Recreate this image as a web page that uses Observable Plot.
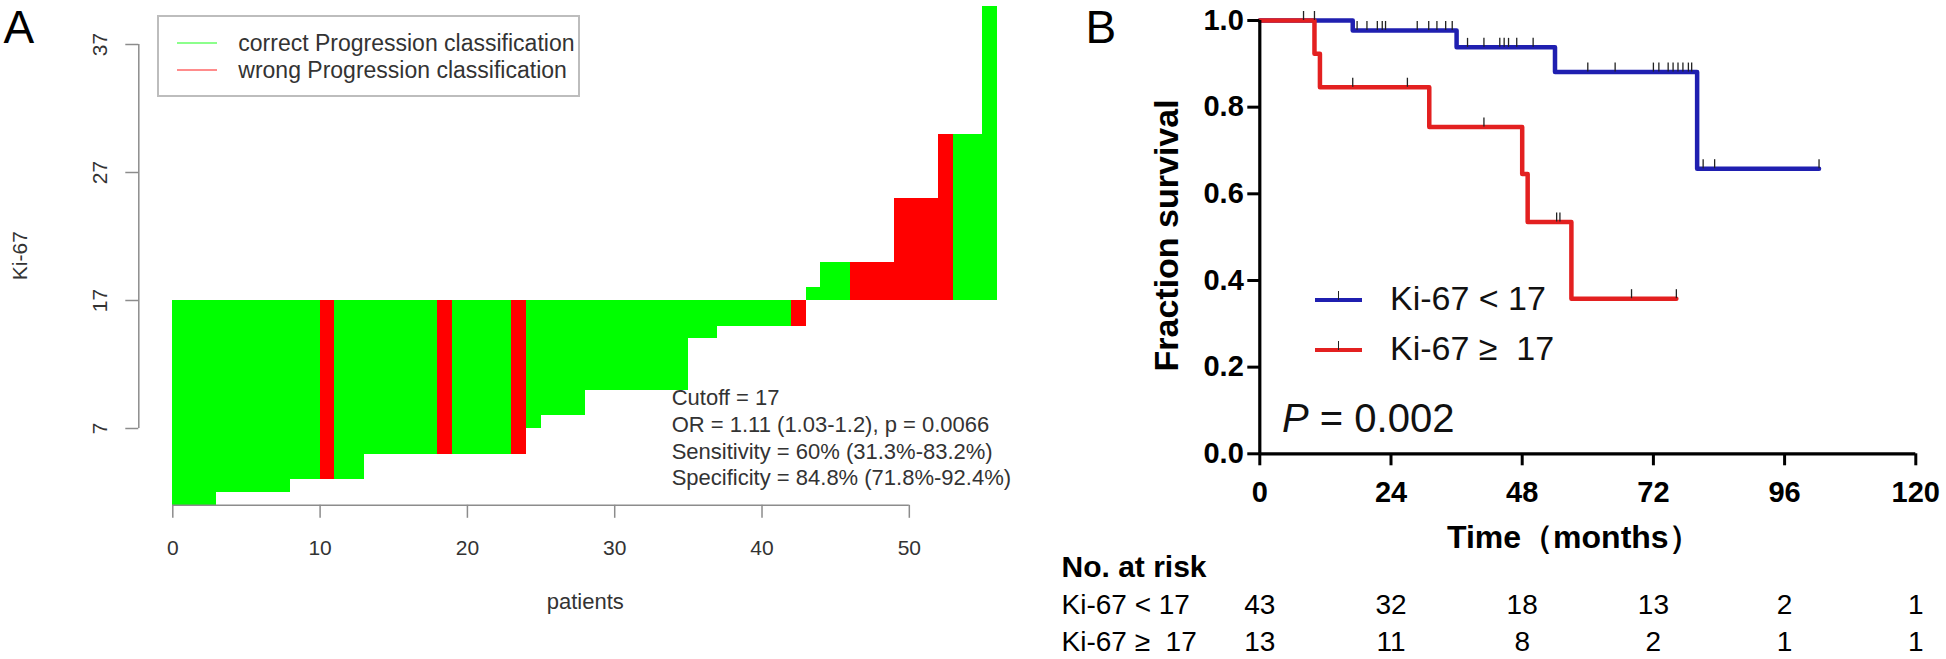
<!DOCTYPE html>
<html><head><meta charset="utf-8">
<script src="https://cdn.jsdelivr.net/npm/d3@7"></script>
<script src="https://cdn.jsdelivr.net/npm/@observablehq/plot@0.6"></script>
<style>
body{margin:0;background:#fff;}
#wrap{position:relative;width:1946px;height:659px;overflow:hidden;font-family:"Liberation Sans",Arial,sans-serif;background:#fff;}
#wrap svg{position:absolute;top:0;}
.abs{position:absolute;white-space:pre;line-height:1;}
</style></head><body><div id="wrap"></div>
<script>
// ---------- Panel A data ----------
const patientKi67 = [1,1,1,2,2,2,2,2,3,3,3,3,3,5,5,5,5,5,5,5,5,5,5,5,7,8,8,8,10,10,10,10,10,10,10,14,14,15,15,15,15,15,15,18,20,20,20,20,20,25,25,25,30,30,30,40];
const wrongPatients = [11,19,24,43,47,48,49,50,51,52,53];
const cutoff = 17;
const kiTicks = [7,17,27,37];
const patientTicks = [0,10,20,30,40,50];
const classLabels = ["correct Progression classification","wrong Progression classification"];
const classColors = ["#00ff00","#ff0000"];
const statsLines = ["Cutoff = 17","OR = 1.11 (1.03-1.2), p = 0.0066","Sensitivity = 60% (31.3%-83.2%)","Specificity = 84.8% (71.8%-92.4%)"];

// ---------- Panel B data ----------
const lowTimes = [0,17,36,54,80,102.3];
const lowSurv  = [1,0.977,0.938,0.881,0.658,0.658];
const highTimes = [0,10,11,31,48,49,57,76.2];
const highSurv  = [1,0.923,0.846,0.754,0.646,0.535,0.358,0.358];
const lowCensor = [8,10,17.8,19.6,21.5,22.4,23,28.8,30.9,32.4,34,35.2,38,41,43.9,44.7,45.5,47,50,60,65,72,73,74.7,75.6,76.5,77.4,78.4,79,81.1,83.2,102.3];
const highCensor = [17,27,41,54.3,54.9,68,76.2];
const survTicks = [0,0.2,0.4,0.6,0.8,1.0];
const timeTicks = [0,24,48,72,96,120];
const groupLabels = ["Ki-67 < 17","Ki-67 \u2265  17"];
const groupColors = ["#1f1fb0","#e32020"];
const riskLow  = [43,32,18,13,2,1];
const riskHigh = [13,11,8,2,1,1];
const pText = "0.002";

const FONT = "'Liberation Sans', Arial, sans-serif";
const wrap = document.getElementById("wrap");

// ---------- Panel A ----------
const patients = patientKi67.map((v,i)=>({i, v, status: wrongPatients.includes(i+1) ? "wrong" : "correct"}));
const axisGray = "#8c8c8c";
const A = Plot.plot({
  width: 1050, height: 659,
  marginLeft: 172.3, marginRight: 52.8, marginTop: 5.6, marginBottom: 154.2,
  x: {domain: [0, patients.length], axis: null},
  y: {domain: d3.extent(patientKi67), axis: null},
  color: {domain: ["correct","wrong"], range: classColors},
  style: {fontFamily: FONT, fontSize: "21px", color: "#333", background: "transparent", overflow: "visible"},
  marks: [
    Plot.rect(patients, {x1: d=>d.i, x2: d=>d.i+1, y1: cutoff, y2: d=>d.v, fill: "status", shapeRendering: "crispEdges"}),
    Plot.ruleY([d3.min(patientKi67)], {x1: d3.min(patientTicks), x2: d3.max(patientTicks), stroke: axisGray, strokeWidth: 1.5}),
    Plot.axisX({ticks: patientTicks, label: null, tickSize: 13, tickPadding: 21.5, stroke: axisGray, strokeWidth: 1.5, fill: "#333", fontSize: 21}),
    Plot.ruleX([0], {y1: d3.min(kiTicks), y2: d3.max(kiTicks), dx: -34, stroke: axisGray, strokeWidth: 1.5}),
    Plot.ruleY(kiTicks, {x1: 0, x2: 0, insetLeft: -47, insetRight: 34, stroke: axisGray, strokeWidth: 1.5}),
    Plot.text(kiTicks, {y: d=>d, text: d=>String(d), frameAnchor: "left", textAnchor: "middle", lineAnchor: "middle", rotate: -90, dx: -72.3, fill: "#333", fontSize: 21}),
    Plot.text(["Ki-67"], {frameAnchor: "left", textAnchor: "middle", lineAnchor: "middle", rotate: -90, dx: -152.3, fill: "#333", fontSize: 21}),
    Plot.text(["patients"], {frameAnchor: "bottom", textAnchor: "middle", lineAnchor: "middle", dy: 97, fill: "#333", fontSize: 22}),
    Plot.text(["A"], {frameAnchor: "top-left", textAnchor: "start", lineAnchor: "middle", dx: -169.3, dy: 21.7, fontSize: 46, fill: "#000"})
  ]
});
A.style.left = "0px";
wrap.appendChild(A);

// legend A (html overlay)
const lg = document.createElement("div");
lg.className = "abs";
Object.assign(lg.style, {left:"156.7px", top:"15px", width:"423px", height:"82px", border:"2px solid #bdbdbd", boxSizing:"border-box"});
wrap.appendChild(lg);
classLabels.forEach((lab,k)=>{
  const cy = 43.3 + k*26.7;
  const ln = document.createElement("div");
  ln.className = "abs";
  Object.assign(ln.style, {left:"176.7px", top:(cy-1)+"px", width:"40px", height:"2px", background: classColors[k], opacity: "0.45"});
  wrap.appendChild(ln);
  const tx = document.createElement("div");
  tx.className = "abs";
  tx.textContent = lab;
  Object.assign(tx.style, {left:"238.3px", top:(cy-11.5)+"px", fontSize:"23px", color:"#333"});
  wrap.appendChild(tx);
});
// stats text
statsLines.forEach((s,k)=>{
  const tx = document.createElement("div");
  tx.className = "abs";
  tx.textContent = s;
  Object.assign(tx.style, {left:"671.7px", top:(398.3 + k*26.7 - 11)+"px", fontSize:"22px", color:"#333"});
  wrap.appendChild(tx);
});

// ---------- Panel B ----------
const lowCurve = lowTimes.map((t,i)=>({t, s: lowSurv[i]}));
const highCurve = highTimes.map((t,i)=>({t, s: highSurv[i]}));
function survAt(times, surv, t){ let s = surv[0]; for (let i=0;i<times.length;i++) if (times[i] <= t) s = surv[i]; return s; }
const lowC = lowCensor.map(t=>({t, s: survAt(lowTimes, lowSurv, t)}));
const highC = highCensor.map(t=>({t, s: survAt(highTimes, highSurv, t)}));

const B = Plot.plot({
  width: 896, height: 659,
  marginLeft: 209.3, marginRight: 30.7, marginTop: 20, marginBottom: 205.7,
  x: {domain: [0,120], axis: null},
  y: {domain: [0,1], axis: null},
  style: {fontFamily: FONT, fontSize: "29px", fontWeight: "bold", color: "#000", background: "transparent", overflow: "visible"},
  marks: [
    Plot.line(lowCurve, {x: "t", y: "s", curve: "step-after", stroke: groupColors[0], strokeWidth: 4.5}),
    Plot.line(highCurve, {x: "t", y: "s", curve: "step-after", stroke: groupColors[1], strokeWidth: 4.5}),
    Plot.ruleX(lowC, {x: "t", y1: "s", y2: "s", insetTop: -9, insetBottom: 0, stroke: "#222", strokeWidth: 1.3}),
    Plot.ruleX(highC, {x: "t", y1: "s", y2: "s", insetTop: -9, insetBottom: 0, stroke: "#222", strokeWidth: 1.3}),
    Plot.ruleX([0], {y1: d3.min(survTicks), y2: d3.max(survTicks), strokeWidth: 3.2}),
    Plot.ruleY([0], {x1: d3.min(timeTicks), x2: d3.max(timeTicks), strokeWidth: 3.2}),
    Plot.axisY({ticks: survTicks, label: null, tickFormat: d3.format(".1f"), tickSize: 12, tickPadding: 4, strokeWidth: 3, fontSize: 29, fontWeight: "bold"}),
    Plot.axisX({ticks: timeTicks, label: null, tickSize: 12, tickPadding: 15.5, strokeWidth: 3, fontSize: 29, fontWeight: "bold"}),
    Plot.text(["Fraction survival"], {frameAnchor: "left", textAnchor: "middle", lineAnchor: "middle", rotate: -90, dx: -92.3, dy: -1.7, fontSize: 34}),
    Plot.text(["Time（months）"], {frameAnchor: "bottom", textAnchor: "middle", lineAnchor: "middle", dx: -14, dy: 84, fontSize: 32}),
    Plot.text(["No. at risk"], {frameAnchor: "bottom-left", textAnchor: "start", lineAnchor: "middle", dx: -198.3, dy: 113.7, fontSize: 30}),
    Plot.text([groupLabels[0]], {frameAnchor: "bottom-left", textAnchor: "start", lineAnchor: "middle", dx: -198.3, dy: 151.7, fontSize: 28, fontWeight: "normal"}),
    Plot.text([groupLabels[1]], {frameAnchor: "bottom-left", textAnchor: "start", lineAnchor: "middle", dx: -198.3, dy: 188.7, fontSize: 28, fontWeight: "normal"}),
    Plot.text(timeTicks, {x: d=>d, text: (d,i)=>String(riskLow[i]), frameAnchor: "bottom", textAnchor: "middle", lineAnchor: "middle", dy: 151.7, fontSize: 28, fontWeight: "normal"}),
    Plot.text(timeTicks, {x: d=>d, text: (d,i)=>String(riskHigh[i]), frameAnchor: "bottom", textAnchor: "middle", lineAnchor: "middle", dy: 188.7, fontSize: 28, fontWeight: "normal"}),
    Plot.text(["B"], {frameAnchor: "top-left", textAnchor: "start", lineAnchor: "middle", dx: -174.3, dy: 7.3, fontSize: 46, fontWeight: "normal"})
  ]
});
B.style.left = "1050px";
wrap.appendChild(B);
B.querySelectorAll("text").forEach(t=>{t.setAttribute("xml:space","preserve"); t.style.whiteSpace="pre";});

// legend B (html overlay)
groupLabels.forEach((lab,k)=>{
  const cy = 300 + k*50;
  const ln = document.createElement("div");
  ln.className = "abs";
  Object.assign(ln.style, {left:"1315px", top:(cy-2.25)+"px", width:"47px", height:"4.5px", background: groupColors[k]});
  wrap.appendChild(ln);
  const tk = document.createElement("div");
  tk.className = "abs";
  Object.assign(tk.style, {left:"1338px", top:(cy-9)+"px", width:"1.4px", height:"9px", background:"#222"});
  wrap.appendChild(tk);
  const tx = document.createElement("div");
  tx.className = "abs";
  tx.textContent = lab;
  Object.assign(tx.style, {left:"1390px", top:(cy-2-17)+"px", fontSize:"34px", color:"#111"});
  wrap.appendChild(tx);
});
const pv = document.createElement("div");
pv.className = "abs";
pv.innerHTML = '<i>P</i> = ' + pText;
Object.assign(pv.style, {left:"1282px", top:"398px", fontSize:"40px", color:"#111"});
wrap.appendChild(pv);
</script></body></html>
